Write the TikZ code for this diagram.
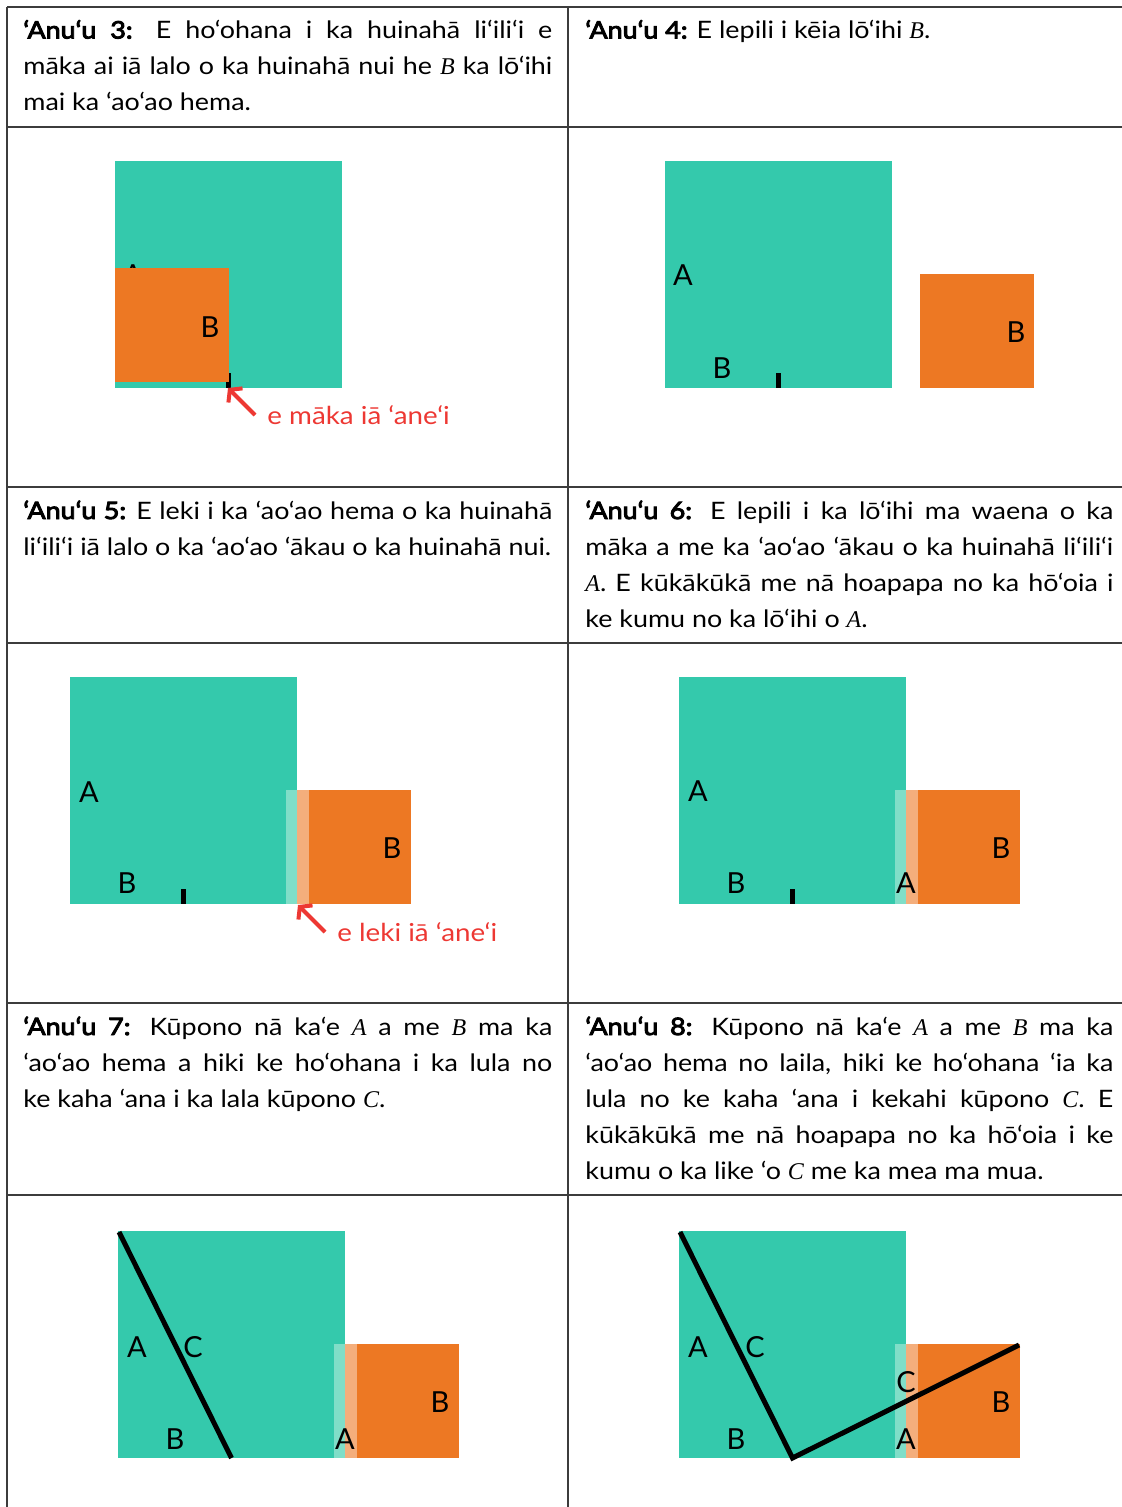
\documentclass[tikz,border=0pt]{standalone}
\usepackage{fontspec}
\setmainfont{Lato}
\newfontfamily\stepfont{Lato}[FakeStretch=1.12]
\newfontfamily\stepboldfont{Lato}[FakeStretch=1.12, FakeBold=4]
\newfontfamily\varfont{Liberation Serif}
\usetikzlibrary{arrows.meta}
\definecolor{squareteal}{RGB}{52, 201, 172}
\definecolor{squareorange}{RGB}{237, 120, 35}
\definecolor{paleteal}{RGB}{128, 222, 200}
\definecolor{paleorange}{RGB}{244, 174, 124}
\definecolor{notered}{RGB}{237, 56, 51}
\definecolor{gridgray}{RGB}{60, 60, 60}
\newcommand{\mv}[1]{{\varfont\itshape #1}}
\newcommand{\steptag}[1]{{\stepboldfont #1}}
\tikzset{
    % Step texts
    cell text/.style={
        anchor=base west, inner sep=0pt, text width=264.5pt,
        align=justify, font=\stepfont\fontsize{12}{18}\selectfont
    },
    % Letters on the squares
    side label/.style={
        inner sep=0pt, font=\fontsize{14.5}{14.5}\selectfont
    },
    % Red hints
    note text/.style={
        anchor=base west, inner sep=0pt, text=notered,
        font=\stepfont\fontsize{12.4}{12.4}\selectfont
    },
    note arrow/.style={
        -{Straight Barb[length=4pt, width=10pt]}, line width=2pt, notered
    },
    % Table rules
    grid line/.style={line width=0.75pt, gridgray},
    % Folds drawn with the ruler
    fold line/.style={line width=2.5pt, black}
}

\begin{document}
\begin{tikzpicture}[x=0.5pt, y=-0.5pt]

    \useasboundingbox (0,0) rectangle (1122,1507);

    % ======== TABLE ========
    \foreach \y in {7, 127, 487, 643, 1003, 1195}
        \draw[grid line] (7,\y) -- (1122,\y);
    \foreach \x in {7, 568}
        \draw[grid line] (\x,7) -- (\x,1507);

    % ======== TEXTS ========
    \node[cell text] (c3text) at (23, 38.5) {\steptag{‘Anu‘u 3:} E ho‘ohana i ka huinahā li‘ili‘i e\linebreak māka ai iā lalo o ka huinahā nui he \mv{B} ka lō‘ihi\linebreak mai ka ‘ao‘ao hema.};
    \node[cell text, text width=264pt] (c4text) at (585, 38.5) {\steptag{‘Anu‘u 4:} E lepili i kēia lō‘ihi \mv{B}.};
    \node[cell text] (c5text) at (23, 519) {\steptag{‘Anu‘u 5:} E leki i ka ‘ao‘ao hema o ka huinahā\linebreak li‘ili‘i iā lalo o ka ‘ao‘ao ‘ākau o ka huinahā nui.};
    \node[cell text, text width=264pt] (c6text) at (585, 519) {\steptag{‘Anu‘u 6:} E lepili i ka lō‘ihi ma waena o ka\linebreak māka a me ka ‘ao‘ao ‘ākau o ka huinahā li‘ili‘i\linebreak \mv{A}. E kūkākūkā me nā hoapapa no ka hō‘oia i\linebreak ke kumu no ka lō‘ihi o \mv{A}.};
    \node[cell text] (c7text) at (23, 1035) {\steptag{‘Anu‘u 7:} Kūpono nā ka‘e \mv{A} a me \mv{B} ma ka\linebreak ‘ao‘ao hema a hiki ke ho‘ohana i ka lula no\linebreak ke kaha ‘ana i ka lala kūpono \mv{C}.};
    \node[cell text, text width=264pt] (c8text) at (585, 1035) {\steptag{‘Anu‘u 8:} Kūpono nā ka‘e \mv{A} a me \mv{B} ma ka\linebreak ‘ao‘ao hema no laila, hiki ke ho‘ohana ‘ia ka\linebreak lula no ke kaha ‘ana i kekahi kūpono \mv{C}. E\linebreak kūkākūkā me nā hoapapa no ka hō‘oia i ke\linebreak kumu o ka like ‘o \mv{C} me ka mea ma mua.};

    % ======== STEP 3 ========
    \fill[squareteal] (115,161) rectangle (342,388);
    \node[side label] (p3A) at (133,275) {A};
    \fill[black] (226,373) rectangle (231,388);
    \fill[squareorange] (115,268) rectangle (229,382);
    \node[side label] (p3B) at (210,327) {B};
    % mark hint
    \node[note text] (p3note) at (267,425) {e māka iā ‘ane‘i};
    \coordinate (p3tail) at (255,415);
    \coordinate (p3tip) at (228,388);
    \draw[note arrow] (p3tail) -- (p3tip);

    % ======== STEP 4 ========
    \fill[squareteal] (665,161) rectangle (892,388);
    \node[side label] (p4A) at (683,275) {A};
    \node[side label] (p4B) at (722,368) {B};
    \fill[black] (776,373) rectangle (781,388);
    \fill[squareorange] (920,274) rectangle (1034,388);
    \node[side label] (p4Bsq) at (1016,332) {B};

    % ======== STEP 5 ========
    \fill[squareteal] (70,677) rectangle (297,904);
    \fill[paleteal] (286,790) rectangle (297,904);
    \fill[paleorange] (297,790) rectangle (309,904);
    \fill[squareorange] (309,790) rectangle (411,904);
    \node[side label] (p5A) at (89,792) {A};
    \node[side label] (p5B) at (127,883) {B};
    \fill[black] (181,889) rectangle (186,904);
    \node[side label] (p5Bsq) at (392,848) {B};
    % slide hint
    \node[note text] (p5note) at (337,941) {e leki iā ‘ane‘i};
    \coordinate (p5tail) at (325,932);
    \coordinate (p5tip) at (298,905);
    \draw[note arrow] (p5tail) -- (p5tip);

    % ======== STEP 6 ========
    \fill[squareteal] (679,677) rectangle (906,904);
    \fill[paleteal] (895,790) rectangle (906,904);
    \fill[paleorange] (906,790) rectangle (918,904);
    \fill[squareorange] (918,790) rectangle (1020,904);
    \node[side label] (p6A) at (698,791) {A};
    \node[side label] (p6B) at (736,883) {B};
    \fill[black] (790,889) rectangle (795,904);
    \node[side label] (p6Astrip) at (906,883) {A};
    \node[side label] (p6Bsq) at (1001,848) {B};

    % ======== STEP 7 ========
    \fill[squareteal] (118,1231) rectangle (345,1458);
    \fill[paleteal] (334,1344) rectangle (345,1458);
    \fill[paleorange] (345,1344) rectangle (357,1458);
    \fill[squareorange] (357,1344) rectangle (459,1458);
    \coordinate (p7top) at (119,1232);
    \coordinate (p7mid) at (231.5,1458);
    \draw[fold line] (p7top) -- (p7mid);
    \node[side label] (p7A) at (137,1347) {A};
    \node[side label] (p7C) at (193,1347) {C};
    \node[side label] (p7B) at (175,1439) {B};
    \node[side label] (p7Astrip) at (345,1439) {A};
    \node[side label] (p7Bsq) at (440,1402) {B};

    % ======== STEP 8 ========
    \fill[squareteal] (679,1231) rectangle (906,1458);
    \fill[paleteal] (895,1344) rectangle (906,1458);
    \fill[paleorange] (906,1344) rectangle (918,1458);
    \fill[squareorange] (918,1344) rectangle (1020,1458);
    \coordinate (p8top) at (680,1232);
    \coordinate (p8mid) at (792.5,1458);
    \coordinate (p8corner) at (1019,1345);
    \draw[fold line] (p8top) -- (p8mid) -- (p8corner);
    \node[side label] (p8A) at (698,1347) {A};
    \node[side label] (p8C) at (755,1347) {C};
    \node[side label] (p8B) at (736,1439) {B};
    \node[side label] (p8Cstrip) at (906,1382) {C};
    \node[side label] (p8Astrip) at (906,1439) {A};
    \node[side label] (p8Bsq) at (1001,1402) {B};

\end{tikzpicture}
\end{document}
